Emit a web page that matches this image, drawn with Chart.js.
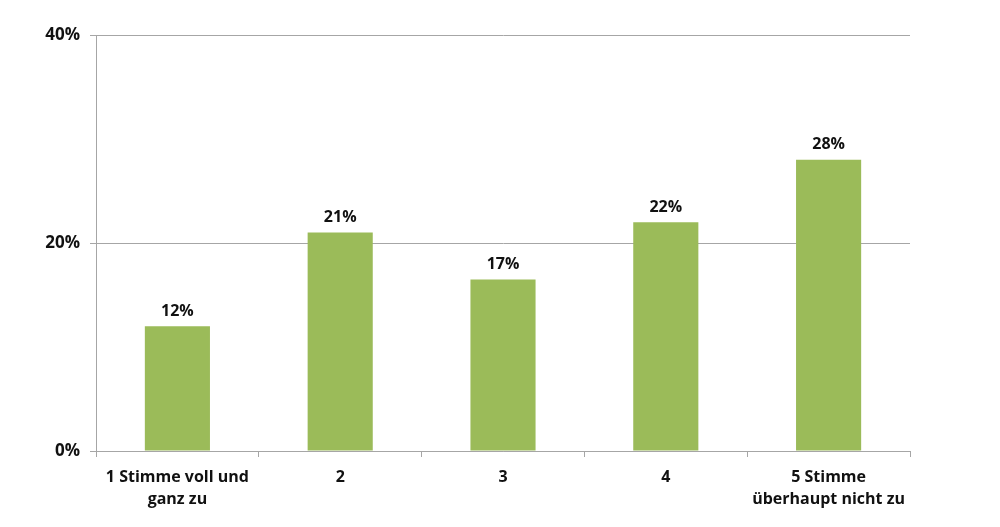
<!DOCTYPE html>
<html>
<head>
<meta charset="utf-8">
<script src="https://cdn.jsdelivr.net/npm/chart.js@4"></script>
<style>
  html, body { margin: 0; padding: 0; background: #fff; }
  #wrap { width: 1000px; height: 527px; }
</style>
</head>
<body>
<div id="wrap"><canvas id="chart" width="1000" height="527"></canvas></div>
<script>
const categories = [
    ["1 Stimme voll und", "ganz zu"],
    "2",
    "3",
    "4",
    ["5 Stimme", "überhaupt nicht zu"]
];
const values = [12, 21, 16.5, 22, 28];
const valueLabels = ["12%", "21%", "17%", "22%", "28%"];
const yTicks = [0, 20, 40];

const FONT = "'Open Sans', 'Noto Sans', sans-serif";

// draws the percentage above each bar
const barLabels = {
    id: "barLabels",
    afterDatasetsDraw(chart) {
        const ctx = chart.ctx;
        const meta = chart.getDatasetMeta(0);
        ctx.save();
        ctx.font = "bold 16px " + FONT;
        ctx.fillStyle = "#111";
        ctx.textAlign = "center";
        ctx.textBaseline = "bottom";
        meta.data.forEach((bar, i) => {
            ctx.fillText(valueLabels[i], bar.x, bar.y - 7);
        });
        ctx.restore();
    }
};

const ctx = document.getElementById("chart").getContext("2d");
new Chart(ctx, {
    type: "bar",
    data: {
        labels: categories,
        datasets: [{
            data: values,
            backgroundColor: "#9BBB59",
            borderWidth: 0,
            categoryPercentage: 1,
            barPercentage: 0.4
        }]
    },
    options: {
        responsive: false,
        animation: false,
        layout: { padding: { top: 35, right: 90, left: 0, bottom: 0 } },
        plugins: {
            legend: { display: false },
            tooltip: { enabled: false }
        },
        scales: {
            x: {
                offset: true,
                grid: {
                    offset: true,
                    drawOnChartArea: false,
                    drawTicks: true,
                    tickLength: 6,
                    color: "#a6a6a6",
                    lineWidth: 1
                },
                border: { color: "#a6a6a6", width: 1 },
                ticks: {
                    padding: 9,
                    color: "#111",
                    maxRotation: 0,
                    autoSkip: false,
                    font: { family: FONT, size: 16, weight: "bold", lineHeight: 1.4 }
                },
                afterFit(scale) { scale.height = 76; }
            },
            y: {
                min: 0,
                max: 40,
                afterBuildTicks(scale) {
                    scale.ticks = yTicks.map(v => ({ value: v }));
                },
                grid: {
                    color: "#a6a6a6",
                    lineWidth: 1,
                    tickLength: 6
                },
                border: { color: "#a6a6a6", width: 1 },
                ticks: {
                    padding: 10,
                    color: "#111",
                    font: { family: FONT, size: 17, weight: "bold" },
                    callback: v => v + "%"
                },
                afterFit(scale) { scale.width = 96; }
            }
        }
    },
    plugins: [barLabels]
});
</script>
</body>
</html>
